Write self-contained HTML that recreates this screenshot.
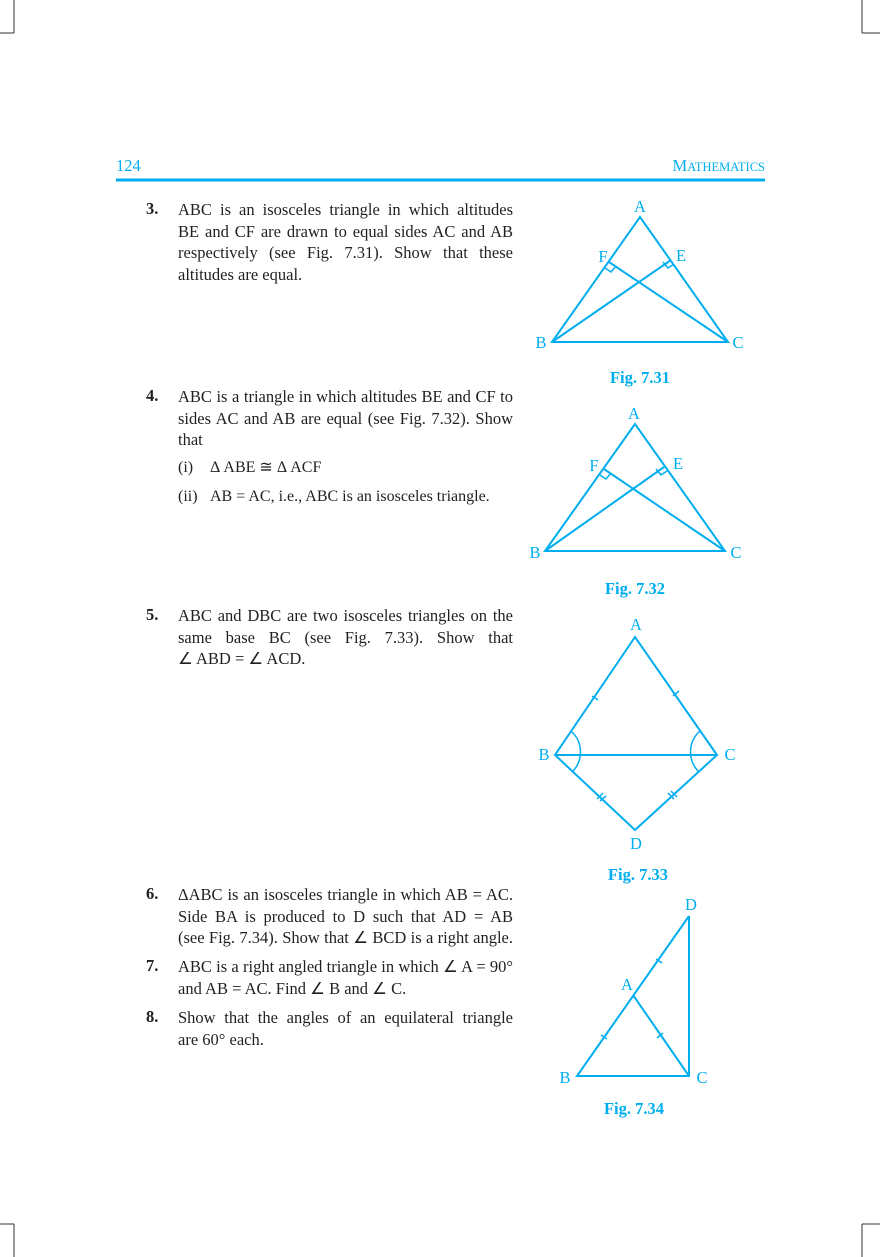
<!DOCTYPE html>
<html><head><meta charset="utf-8"><style>
body{margin:0;width:880px;height:1257px;position:relative;background:#fff;font-family:"Liberation Serif",serif;color:#231f20;overflow:hidden}
.t{position:absolute;font-size:16.5px;line-height:21.5px}
.n{position:absolute;left:146px;font-weight:bold;font-size:16.5px}
.p{position:absolute;left:178px;width:335px;text-align:justify;font-size:16.5px;line-height:21.5px}
.p span.l{display:block;text-align:justify;text-align-last:justify}
svg{position:absolute;left:0;top:0}
</style></head><body>
<svg width="880" height="1257" font-family="Liberation Serif, serif">
<g stroke="#333" stroke-width="1" fill="none">
<line x1="14" y1="0" x2="14" y2="33"/><line x1="0" y1="33" x2="14" y2="33"/>
<line x1="862" y1="0" x2="862" y2="33"/><line x1="862" y1="33" x2="880" y2="33"/>
<line x1="14" y1="1224" x2="14" y2="1257"/><line x1="0" y1="1224" x2="14" y2="1224"/>
<line x1="862" y1="1224" x2="862" y2="1257"/><line x1="862" y1="1224" x2="880" y2="1224"/>
</g>
<line x1="116" y1="180" x2="765" y2="180" stroke="#00aeef" stroke-width="3"/>
<text x="116" y="171" font-size="16.5" fill="#00aeef">124</text>
<text x="765" y="171" font-size="16.5" fill="#00aeef" text-anchor="end">M<tspan font-size="12.5">ATHEMATICS</tspan></text>
<g stroke="#00aeef" stroke-width="2" fill="none">
<polygon points="640,217 552,342 728,342"/>
<line x1="552" y1="342" x2="671" y2="260"/><line x1="728" y1="342" x2="609" y2="262"/>
<polyline points="605,268 611,272 616,266" stroke-width="1.5"/>
<polyline points="674,264 668,268 663,262" stroke-width="1.5"/>
<polygon points="635,424 545,551 725,551"/>
<line x1="545" y1="551" x2="664" y2="467"/><line x1="725" y1="551" x2="604" y2="469"/>
<polyline points="600,475 606,479 611,473" stroke-width="1.5"/>
<polyline points="667,471 661,475 656,469" stroke-width="1.5"/>
<polygon points="635,637 555,755 635,830 717,755"/>
<line x1="555" y1="755" x2="717" y2="755"/>
<path d="M571,731 A28,28 0 0 1 572,772" stroke-width="1.5"/>
<path d="M700,731 A28,28 0 0 0 699,772" stroke-width="1.5"/>
<g stroke-width="1.5"><line x1="592" y1="696" x2="598" y2="700"/><line x1="673" y1="696" x2="679" y2="691"/>
<line x1="597" y1="799" x2="603" y2="793"/><line x1="600" y1="801" x2="606" y2="796"/>
<line x1="668" y1="793" x2="674" y2="799"/><line x1="671" y1="791" x2="677" y2="797"/></g>
<polyline points="689,916 689,1076 577,1076 689,916"/>
<line x1="633" y1="995" x2="689" y2="1076"/>
<g stroke-width="1.5"><line x1="601" y1="1035" x2="607" y2="1039"/><line x1="656" y1="959" x2="662" y2="963"/><line x1="657" y1="1038" x2="663" y2="1033"/></g>
</g>
<g fill="#00aeef" font-size="16.5" text-anchor="middle">
<text x="640" y="212">A</text><text x="603" y="262">F</text><text x="681" y="261">E</text><text x="541" y="348">B</text><text x="738" y="348">C</text>
<text x="634" y="419">A</text><text x="594" y="471">F</text><text x="678" y="469">E</text><text x="535" y="558">B</text><text x="736" y="558">C</text>
<text x="636" y="630">A</text><text x="544" y="760">B</text><text x="730" y="760">C</text><text x="636" y="849">D</text>
<text x="691" y="910">D</text><text x="627" y="990">A</text><text x="565" y="1083">B</text><text x="702" y="1083">C</text>
<g font-weight="bold"><text x="640" y="383">Fig. 7.31</text><text x="635" y="594">Fig. 7.32</text><text x="638" y="880">Fig. 7.33</text><text x="634" y="1114">Fig. 7.34</text></g>
</g>
</svg>
<div class="n" style="top:199px">3.</div>
<div class="p" style="top:199px"><span class="l">ABC is an isosceles triangle in which altitudes</span><span class="l">BE and CF are drawn to equal sides AC and AB</span><span class="l">respectively (see Fig. 7.31). Show that these</span>altitudes are equal.</div>
<div class="n" style="top:386px">4.</div>
<div class="p" style="top:386px"><span class="l">ABC is a triangle in which altitudes BE and CF to</span><span class="l">sides AC and AB are equal (see Fig. 7.32). Show</span>that</div>
<div class="t" style="left:178px;top:457px;font-size:16px">(i)</div><div class="t" style="left:210px;top:457px;font-size:16px">Δ ABE ≅ Δ ACF</div>
<div class="t" style="left:178px;top:486px;font-size:16px">(ii)</div><div class="t" style="left:210px;top:486px;font-size:16px">AB = AC, i.e., ABC is an isosceles triangle.</div>
<div class="n" style="top:605px">5.</div>
<div class="p" style="top:605px"><span class="l">ABC and DBC are two isosceles triangles on the</span><span class="l">same base BC (see Fig. 7.33). Show that</span>∠ ABD = ∠ ACD.</div>
<div class="n" style="top:884px">6.</div>
<div class="p" style="top:884px"><span class="l">ΔABC is an isosceles triangle in which AB = AC.</span><span class="l">Side BA is produced to D such that AD = AB</span><span class="l">(see Fig. 7.34). Show that ∠ BCD is a right angle.</span></div>
<div class="n" style="top:956px">7.</div>
<div class="p" style="top:956px"><span class="l">ABC is a right angled triangle in which ∠ A = 90°</span>and AB = AC. Find ∠ B and ∠ C.</div>
<div class="n" style="top:1007px">8.</div>
<div class="p" style="top:1007px"><span class="l">Show that the angles of an equilateral triangle</span>are 60° each.</div>
</body></html>
